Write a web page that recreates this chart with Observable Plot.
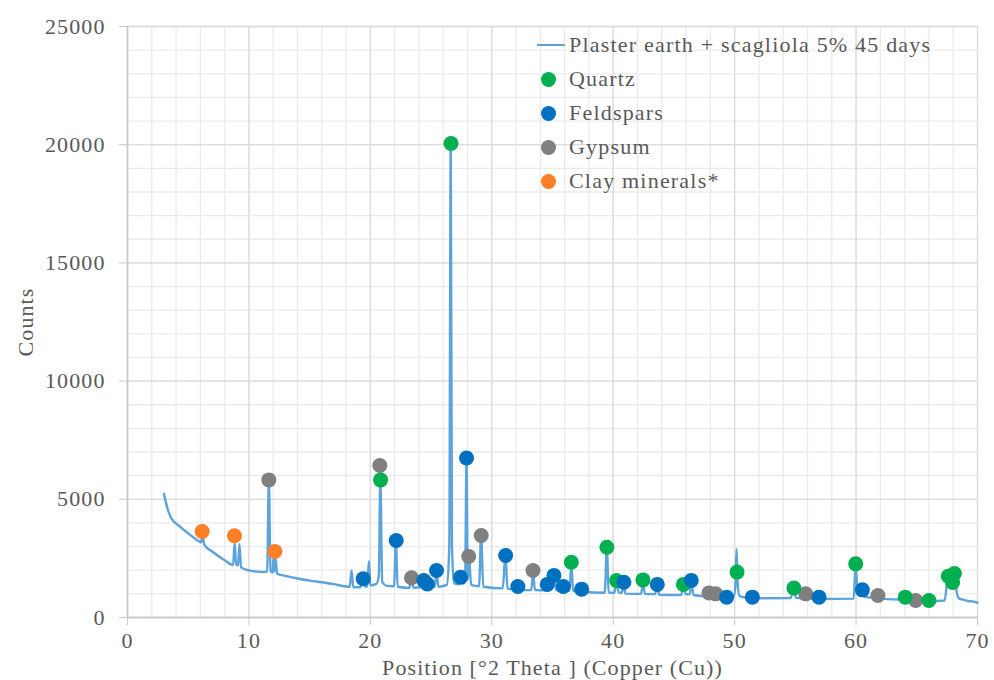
<!DOCTYPE html>
<html>
<head>
<meta charset="utf-8">
<script src="https://cdn.jsdelivr.net/npm/d3@7"></script>
<script src="https://cdn.jsdelivr.net/npm/@observablehq/plot@0.6"></script>
<style>
  html, body { margin: 0; padding: 0; background: #fff; }
  #wrap { position: relative; width: 994px; height: 680px; font-family: "Liberation Serif", "Times New Roman", "DejaVu Serif", serif; }
  #chart svg, #chart svg text { font-family: "Liberation Serif", "Times New Roman", "DejaVu Serif", serif !important; }
  #chart svg text { letter-spacing: 1.1px; }
  #legend { position: absolute; left: 536px; top: 28px; color: #595959; font-size: 22px; }
  .row { display: flex; align-items: center; height: 34px; white-space: nowrap; }
  .row span { letter-spacing: 1.2px; }
  .sym { width: 30px; display: flex; justify-content: center; align-items: center; margin-right: 3px; }
  .ln { width: 28px; height: 2px; background: #5ba3dc; }
  .dt { width: 15px; height: 15px; border-radius: 50%; margin-left: -6px; }
</style>
</head>
<body>
<div id="wrap">
  <div id="chart"></div>
  <div id="legend"></div>
</div>
<script>
// XRD trace: 2θ positions and counts
const theta = [3.0,3.3,3.6,4.2,5.0,5.8,6.05,6.18,6.32,7.0,8.0,8.7,8.82,8.95,9.1,9.22,9.35,10.0,11.0,11.5,11.64,11.78,11.95,12.02,12.1,12.2,12.32,13.0,14.0,15.0,16.0,17.0,18.3,18.45,18.6,19.2,19.42,19.6,19.75,19.88,20.0,20.5,20.7,20.82,20.98,21.3,21.95,22.1,22.25,23.2,23.38,23.55,24.2,24.38,24.52,24.65,24.8,25.3,25.45,25.6,26.3,26.5,26.62,26.72,26.9,27.3,27.45,27.6,27.8,27.92,28.02,28.12,28.3,28.95,29.12,29.3,30.9,31.12,31.3,32.0,32.15,32.3,33.25,33.4,33.55,34.4,34.57,34.75,34.95,35.12,35.3,35.75,35.9,36.05,36.4,36.55,36.7,37.25,37.4,37.55,39.3,39.48,39.62,40.1,40.27,40.45,40.7,40.87,41.0,42.3,42.45,42.6,43.45,43.62,43.78,45.6,45.78,45.95,46.3,46.45,46.6,47.7,47.9,48.1,48.3,48.45,48.6,49.2,49.35,49.5,49.95,50.08,50.16,50.24,50.4,51.3,51.45,51.6,54.6,54.88,55.05,55.7,55.85,56.0,56.8,56.95,57.1,59.8,59.97,60.12,60.35,60.5,60.65,61.6,61.8,62.0,63.9,64.05,64.2,64.8,64.92,65.05,65.85,66.0,66.15,67.3,67.55,67.75,67.95,68.1,68.3,68.5,68.8,69.2,69.6,70.0];
const counts = [5230,4600,4200,3900,3560,3250,3180,3450,3080,2780,2420,2220,3150,2250,2200,3100,2120,1990,1930,1940,5820,1960,1900,2550,1950,2500,1850,1760,1650,1560,1490,1410,1300,1990,1280,1290,1580,1300,1320,2380,1360,1420,1800,5850,1500,1350,1320,3250,1300,1250,1650,1260,1280,1520,1300,1400,1290,1300,1950,1300,1380,3000,20050,3000,1450,1400,1680,1450,1500,6700,1600,2550,1380,1320,3450,1300,1230,2600,1220,1180,1300,1170,1160,1950,1160,1150,1370,1200,1200,1750,1150,1140,1280,1130,1130,2300,1120,1100,1180,1080,1050,2950,1060,1050,1530,1060,1040,1450,1010,1000,1550,1000,990,1350,960,950,1360,1000,980,1530,950,900,1000,890,880,960,870,860,900,860,900,1500,2900,1500,900,820,850,810,820,1230,830,820,950,800,790,830,780,800,2250,1100,1050,1150,880,830,900,800,760,840,740,700,720,690,690,710,690,720,1650,1300,1450,1800,1050,800,760,700,680,630];

// Phase markers
const quartzTheta  = [20.84,26.64,36.55,39.48,40.28,42.45,45.78,50.2,54.88,59.97,64.05,66.0,67.6,67.95,68.1];
const quartzCounts = [5820,20050,2340,2970,1560,1590,1400,1920,1250,2270,860,720,1750,1480,1860];
const feldTheta  = [19.41,22.13,24.4,24.69,25.45,27.43,27.92,31.14,32.15,34.57,35.12,35.89,37.4,40.88,43.63,46.43,49.34,51.46,56.95,60.52];
const feldCounts = [1640,3260,1560,1420,1990,1700,6750,2620,1310,1400,1780,1310,1200,1490,1400,1570,860,860,860,1170];
const gypTheta  = [11.64,20.78,23.39,28.1,29.13,33.39,47.89,48.44,55.85,61.8,64.91];
const gypCounts = [5820,6430,1680,2580,3470,1990,1040,1000,1000,930,720];
const clayTheta  = [6.15,8.81,12.14];
const clayCounts = [3640,3460,2790];

const xTicks = [0,10,20,30,40,50,60,70];
const yTicks = [0,5000,10000,15000,20000,25000];
const xMinor = d3.range(0, 71, 2);
const yMinor = d3.range(0, 25001, 1000);

const seriesName = "Plaster earth + scagliola 5% 45 days";
const phases = [
  {name: "Quartz", color: "#00b050"},
  {name: "Feldspars", color: "#0070c0"},
  {name: "Gypsum", color: "#808080"},
  {name: "Clay minerals*", color: "#ff7f27"}
];

const trace = theta.map((t, i) => ({t, c: counts[i]}));
const mk = (ts, cs, color) => ts.map((t, i) => ({t, c: cs[i], color}));
const gyp = mk(gypTheta, gypCounts, phases[2].color);
const clay = mk(clayTheta, clayCounts, phases[3].color);
const qz = mk(quartzTheta, quartzCounts, phases[0].color);
const fs = mk(feldTheta, feldCounts, phases[1].color);

const serif = '"Liberation Serif", "Times New Roman", "DejaVu Serif", serif';
const chart = Plot.plot({
  width: 994,
  height: 680,
  marginLeft: 127,
  marginRight: 17,
  marginTop: 26,
  marginBottom: 63,
  style: {fontFamily: serif, fontSize: "22px", color: "#595959", background: "white"},
  x: {domain: [0, 70]},
  y: {domain: [0, 25000]},
  marks: [
    Plot.gridX(xMinor, {stroke: "#ebebeb", strokeOpacity: 1, strokeWidth: 1.3}),
    Plot.gridY(yMinor, {stroke: "#ebebeb", strokeOpacity: 1, strokeWidth: 1.3}),
    Plot.gridX(xTicks, {stroke: "#dcdcdc", strokeOpacity: 1, strokeWidth: 1.3}),
    Plot.gridY(yTicks, {stroke: "#dcdcdc", strokeOpacity: 1, strokeWidth: 1.3}),
    Plot.ruleX([0], {stroke: "#c8c8c8", strokeWidth: 1.5}),
    Plot.ruleY([0], {stroke: "#c8c8c8", strokeWidth: 1.5}),
    Plot.axisX({ticks: xTicks, tickSize: 8, tickPadding: 7, stroke: "#c8c8c8", fontFamily: serif,
      label: "Position [°2 Theta ] (Copper (Cu))", labelAnchor: "center", labelArrow: "none", labelOffset: 57, fontSize: 22}),
    Plot.axisY({ticks: yTicks, tickSize: 8, tickPadding: 14, stroke: "#c8c8c8", tickFormat: d => String(d), fontFamily: serif,
      label: "Counts", labelAnchor: "center", labelArrow: "none", labelOffset: 110, fontSize: 22}),
    Plot.line(trace, {x: "t", y: "c", stroke: "#5ba3dc", strokeWidth: 2.4, curve: "monotone-x"}),
    Plot.dot(gyp, {x: "t", y: "c", fill: "color", r: 7.5}),
    Plot.dot(clay, {x: "t", y: "c", fill: "color", r: 7.5}),
    Plot.dot(qz, {x: "t", y: "c", fill: "color", r: 7.5}),
    Plot.dot(fs, {x: "t", y: "c", fill: "color", r: 7.5})
  ]
});
document.getElementById("chart").appendChild(chart);

const legend = document.getElementById("legend");
let html = `<div class="row"><div class="sym"><div class="ln"></div></div><span>${seriesName}</span></div>`;
for (const p of phases) {
  html += `<div class="row"><div class="sym"><div class="dt" style="background:${p.color}"></div></div><span>${p.name}</span></div>`;
}
legend.innerHTML = html;
</script>
</body>
</html>
